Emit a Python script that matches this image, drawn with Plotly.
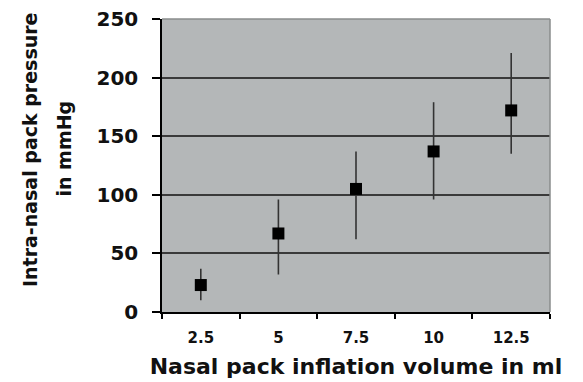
import plotly.graph_objects as go

volumes = ["2.5", "5", "7.5", "10", "12.5"]
pressure_mean = [23, 67, 105, 137, 172]
err_upper = [37, 96, 137, 179, 221]
err_lower = [10, 32, 62, 96, 135]
y_ticks = [0, 50, 100, 150, 200, 250]

plus = [u - m for u, m in zip(err_upper, pressure_mean)]
minus = [m - l for m, l in zip(pressure_mean, err_lower)]

FONT = "DejaVu Sans"

fig = go.Figure()
fig.add_trace(go.Scatter(
    x=volumes, y=pressure_mean, mode="markers",
    marker=dict(symbol="square", size=12, color="black"),
    error_y=dict(type="data", symmetric=False, array=plus, arrayminus=minus,
                 color="#333333", thickness=1.6, width=0),
    showlegend=False,
))

fig.update_layout(
    width=575, height=374,
    margin=dict(l=154, r=33, t=11, b=70),
    paper_bgcolor="white",
    plot_bgcolor="#b4b7b8",
    font=dict(family=FONT, color="black"),
    xaxis=dict(
        type="category", categoryorder="array", categoryarray=volumes,
        range=[-0.5, len(volumes) - 0.5],
        automargin=False,
        tickson="boundaries", ticks="outside", ticklen=5, tickwidth=1.5, tickcolor="black",
        showline=True, linecolor="black", linewidth=1.5,
        showgrid=False, zeroline=False,
        tickfont=dict(family=FONT, size=15, color="#111111", weight="bold"),
        ticklabelstandoff=11, ticklabeloverflow="allow",
        title=dict(text="<b>Nasal pack inflation volume in ml</b>",
                   font=dict(family=FONT, size=22, color="#111111"), standoff=13),
    ),
    yaxis=dict(
        range=[0, 250], tickvals=y_ticks, automargin=False,
        ticks="outside", ticklen=8, tickwidth=1.5, tickcolor="black",
        showline=True, linecolor="black", linewidth=1.5,
        showgrid=True, gridcolor="#3a3a3a", gridwidth=1.5, zeroline=False,
        tickfont=dict(family=FONT, size=20, color="#111111", weight="bold"),
        ticklabelstandoff=10, ticklabeloverflow="allow",
    ),
)

# border (top/right) in lighter gray
fig.add_shape(type="line", xref="paper", yref="paper", x0=0, x1=1, y0=1, y1=1,
              line=dict(color="#8a8c8d", width=1.5), layer="above")
fig.add_shape(type="line", xref="paper", yref="paper", x0=1, x1=1, y0=0, y1=1,
              line=dict(color="#8a8c8d", width=1.5), layer="above")

# y-axis title as two lines
fig.add_annotation(text="<b>Intra-nasal pack pressure</b>", textangle=-90,
                   xref="paper", yref="paper", x=-0.340, y=0.553, xanchor="center", yanchor="middle",
                   showarrow=False, font=dict(family=FONT, size=19, color="#111111"))
fig.add_annotation(text="<b>in mmHg</b>", textangle=-90,
                   xref="paper", yref="paper", x=-0.255, y=0.558, xanchor="center", yanchor="middle",
                   showarrow=False, font=dict(family=FONT, size=19, color="#111111"))

fig.write_html("out.html")
